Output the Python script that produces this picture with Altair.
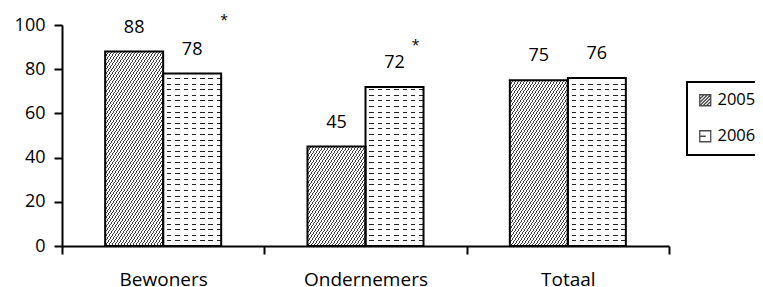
import altair as alt
import pandas as pd

# ---------------- data ----------------
categories = ["Bewoners", "Ondernemers", "Totaal"]
years = ["2005", "2006"]
values_2005 = [88, 45, 75]
values_2006 = [78, 72, 76]
asterisk_2006 = [True, True, False]   # significance markers next to the 2006 labels

rows = []
for i, c in enumerate(categories):
    rows.append({"cat": c, "year": "2005", "value": values_2005[i], "sig": False})
    rows.append({"cat": c, "year": "2006", "value": values_2006[i], "sig": asterisk_2006[i]})
df = pd.DataFrame(rows)

# ---------------- layout / style ----------------
W_PLOT, H_PLOT = 607, 221
PX = H_PLOT / 100.0
OFF_PAD = 0.744
BAR_W = W_PLOT / 3 / (2 + 2 * OFF_PAD)
FONT = "Open Sans"
DARK = "#3c3c3c"


def stripe_stops(period_t, frac, on, off, start_on=True):
    """Hard-edged stripes along a gradient's t axis (0..1)."""
    stops = []
    k = 0
    while k * period_t < 1:
        t0 = k * period_t
        t1 = min(1.0, (k + frac) * period_t)
        t2 = min(1.0, (k + 1) * period_t)
        a, b = (on, off) if start_on else (off, on)
        stops += [
            {"offset": round(t0, 6), "color": a},
            {"offset": round(t1, 6), "color": a},
            {"offset": round(t1, 6), "color": b},
            {"offset": round(t2, 6), "color": b},
        ]
        k += 1
    return stops


def diag_gradient(value, slope=1.5, period=3.0, frac=0.36):
    h = value * PX
    a = slope * BAR_W / h
    m = (a + 1) / (a * a + 1)
    # horizontal pixel period -> period in gradient t units
    period_t = period * a / (BAR_W * (a + 1))
    return {"gradient": "linear", "x1": 0, "y1": 0, "x2": m * a, "y2": m,
            "stops": stripe_stops(period_t, frac, DARK, "white")}


def rows_gradient(value, spacing=5.6, thick=1.0):
    h = value * PX
    period_t = spacing / h
    f = 1 - thick / spacing
    return {"gradient": "linear", "x1": 0, "y1": 1, "x2": 0, "y2": 0,
            "stops": stripe_stops(period_t, f, "white", "#222222")}


def gaps_gradient(period=8.3, gap=3.8):
    period_t = period / BAR_W
    return {"gradient": "linear", "x1": 0, "y1": 0, "x2": 1, "y2": 0,
            "stops": stripe_stops(period_t, gap / period, "white", "rgba(255,255,255,0)")}


def hatch_symbol(step=0.6):
    parts = ["M-1,-1H1V1H-1Z"]
    c = -1.2
    while c <= 1.21:
        x0, x1 = max(-1, c - 1), min(1, c + 1)
        parts.append(f"M{x0:.2f},{c - x0:.2f}L{x1:.2f},{c - x1:.2f}")
        c += step
    return " ".join(parts)


sym_2005 = hatch_symbol()
sym_2006 = "M-1,-1H1V1H-1Z M-1,0H0.1"

# ---------------- encodings ----------------
x_enc = alt.X(
    "cat:N",
    sort=categories,
    title=None,
    scale=alt.Scale(paddingInner=0, paddingOuter=0),
    axis=alt.Axis(labelAngle=0, tickBand="extent", tickSize=8, labelFontSize=19,
                  labelPadding=16, labelFont=FONT),
)
xo_enc = alt.XOffset("year:N", scale=alt.Scale(domain=years, paddingInner=0, paddingOuter=OFF_PAD))
y_enc = alt.Y(
    "value:Q",
    title=None,
    scale=alt.Scale(domain=[0, 100], nice=False, zero=True),
    axis=alt.Axis(values=[0, 20, 40, 60, 80, 100], tickSize=8, labelFontSize=18,
                  labelPadding=9, labelFont=FONT),
)

base = alt.Chart(df).encode(x=x_enc, xOffset=xo_enc, y=y_enc)

layers = []
for i, c in enumerate(categories):
    layers.append(
        base.transform_filter((alt.datum.cat == c) & (alt.datum.year == "2005"))
        .mark_bar(fill=diag_gradient(values_2005[i]), strokeWidth=0)
    )
    layers.append(
        base.transform_filter((alt.datum.cat == c) & (alt.datum.year == "2006"))
        .mark_bar(fill=rows_gradient(values_2006[i]), strokeWidth=0)
    )

layers.append(
    base.transform_filter(alt.datum.year == "2006").mark_bar(fill=gaps_gradient(), strokeWidth=0)
)
layers.append(base.mark_bar(fillOpacity=0, stroke="black", strokeWidth=2))

layers.append(
    base.mark_text(dy=-24, fontSize=18, font=FONT, color="black", baseline="middle")
    .encode(text=alt.Text("value:Q"))
)

layers.append(
    base.transform_filter((alt.datum.cat == "Bewoners") & alt.datum.sig)
    .mark_text(text="*", dx=32, dy=-53, fontSize=14, font=FONT, color="black", baseline="middle")
)
layers.append(
    base.transform_filter((alt.datum.cat == "Ondernemers") & alt.datum.sig)
    .mark_text(text="*", dx=21, dy=-41, fontSize=14, font=FONT, color="black", baseline="middle")
)

layers.append(
    base.mark_point(size=0, filled=False, stroke="black").encode(
        shape=alt.Shape(
            "year:N",
            scale=alt.Scale(domain=years, range=[sym_2005, sym_2006]),
            legend=alt.Legend(
                title=None, orient="none", legendX=625, legendY=57,
                symbolSize=121, symbolStrokeWidth=1.3, symbolFillColor="white",
                symbolStrokeColor="black", labelFontSize=16.5, labelFont=FONT,
                labelColor="black", labelOffset=4, rowPadding=19, padding=10,
                strokeColor="black",
            ),
        )
    )
)

chart = (
    alt.layer(*layers)
    .properties(
        width=W_PLOT,
        height=H_PLOT,
        autosize=alt.AutoSizeParams(type="none"),
        padding={"left": 54, "top": 17, "right": 86, "bottom": 41},
        background="white",
    )
    .configure_view(strokeWidth=0)
    .configure_axis(
        grid=False, domainColor="black", domainWidth=2, tickColor="black",
        tickWidth=2, labelColor="black",
    )
    .configure_legend(strokeWidth=2)
)

chart.save("out.html", embed_options={"renderer": "svg", "actions": False})
